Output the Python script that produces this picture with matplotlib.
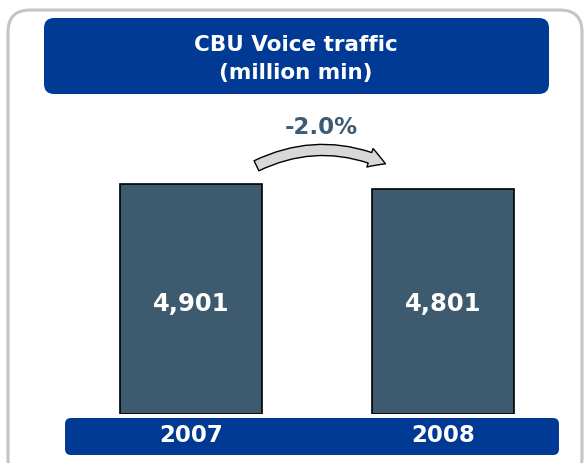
import matplotlib.pyplot as plt
from matplotlib.patches import FancyBboxPatch, FancyArrowPatch

years = ["2007", "2008"]
traffic = [4901, 4801]
change_label = "-2.0%"
title_lines = "CBU Voice traffic\n(million min)"

blue = "#003a94"
bar_col = "#3e5a6e"

fig = plt.figure(figsize=(5.88, 4.63), dpi=100)

# background layer in pixel coordinates
bg = fig.add_axes([0, 0, 1, 1], zorder=0)
bg.set_xlim(0, 588)
bg.set_ylim(463, 0)
bg.axis("off")

bg.add_patch(FancyBboxPatch((8, 10), 574, 470, boxstyle="round,pad=0,rounding_size=22",
                            facecolor="white", edgecolor="#c4c4c4", linewidth=2.2))
bg.add_patch(FancyBboxPatch((44, 18), 505, 76, boxstyle="round,pad=0,rounding_size=10",
                            facecolor=blue, edgecolor="none"))
bg.add_patch(FancyBboxPatch((65, 418), 494, 37, boxstyle="round,pad=0,rounding_size=6",
                            facecolor=blue, edgecolor="none"))

bg.text(296, 59, title_lines, ha="center", va="center", color="white",
        fontsize=15.5, fontweight="bold", linespacing=1.5)
bg.text(321, 128, change_label, ha="center", va="center", color="#3d5a70",
        fontsize=16.5, fontweight="bold")

arr = FancyArrowPatch((254, 167), (388, 165), connectionstyle="arc3,rad=-0.24",
                      arrowstyle="simple,head_length=12,head_width=14,tail_width=8",
                      facecolor="#d8d8d8", edgecolor="black", linewidth=1.0,
                      mutation_scale=1)
bg.add_patch(arr)

# bars
ax = fig.add_axes([65 / 588, 49 / 463, 494 / 588, 314 / 463], zorder=1)
ax.patch.set_alpha(0)
x = list(range(len(years)))
ax.bar(x, traffic, width=0.563, color=bar_col, edgecolor="black", linewidth=1.2)
ax.set_xlim(-0.5, 1.46)
ax.set_ylim(0, 6700)
ax.axis("off")

for xi, v in zip(x, traffic):
    ax.text(xi, 2350, f"{v:,}", ha="center", va="center", color="white",
            fontsize=17.5, fontweight="bold")
    ax.text(xi, -0.068 * 6700, years[xi], ha="center", va="center", color="white",
            fontsize=16.5, fontweight="bold", clip_on=False)

fig.savefig("out.png", dpi=100)
